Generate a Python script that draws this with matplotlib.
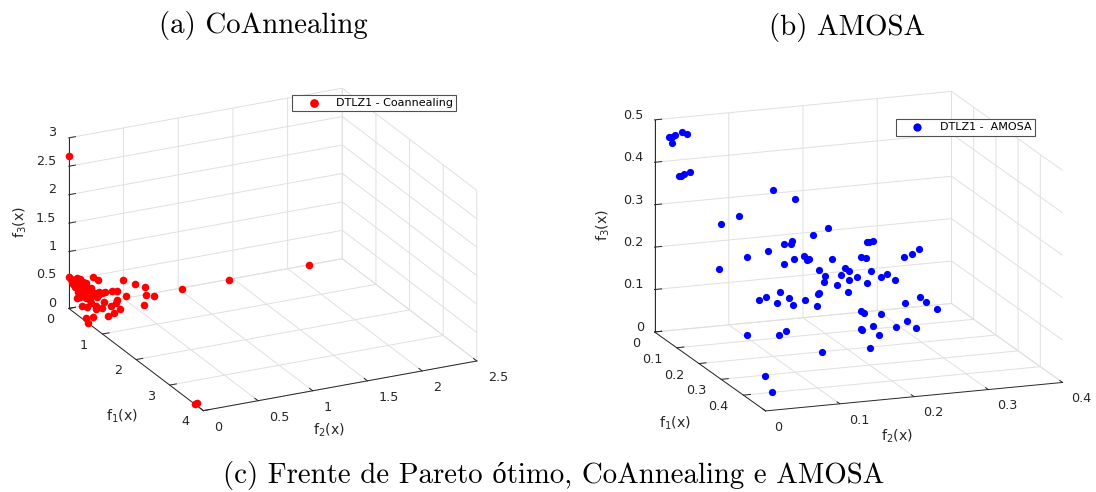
import numpy as np
import matplotlib
matplotlib.use('Agg')
import matplotlib.pyplot as plt
from matplotlib.transforms import ScaledTranslation

W, H = 1096, 492
GRAY = '#262626'

# left panel, CoAnnealing
co_f1 = [0.0,0.018,0.02,0.037,3.742,3.73,0.0,0.0,0.0,0.0,0.0,0.007,0.106,0.026,0.335,0.007,0.034,0.081,0.108,0.134,0.174,0.216,0.24,0.321,0.405,0.463,0.316,0.313,0.365,0.376,0.378,0.39,0.487,0.56,0.0,0.055,0.01,0.017,0.0,0.081,0.034,0.036,0.154,0.122,0.112,0.09,0.199,0.0,0.198,0.226,0.26,0.177,0.15,0.143,0.111,0.261,0.256,0.295,0.182,0.05,0.0,0.097,0.167,0.135]
co_f2 = [0.002,2.193,1.458,1.026,0.003,0.022,0.218,0.27,0.498,0.605,0.699,0.703,0.746,0.518,0.587,0.435,0.384,0.306,0.246,0.396,0.378,0.258,0.312,0.369,0.292,0.216,0.206,0.149,0.133,0.053,0.004,0.037,0.068,0.0,0.002,0.003,0.069,0.097,0.035,0.062,0.122,0.146,0.009,0.08,0.129,0.178,0.026,0.078,0.072,0.1,0.113,0.163,0.224,0.195,0.266,0.022,0.078,0.109,0.199,0.041,0.026,0.072,0.097,0.167]
co_f3 = [2.68,0.0,0.0,0.0,0.0,0.0,0.471,0.406,0.32,0.219,0.139,0.0,0.0,0.056,0.0,0.158,0.182,0.213,0.246,0.07,0.048,0.126,0.048,0.0,0.0,0.0,0.078,0.138,0.102,0.17,0.218,0.0,0.045,0.0,0.547,0.542,0.522,0.486,0.418,0.457,0.444,0.418,0.437,0.398,0.359,0.332,0.375,0.163,0.33,0.274,0.226,0.259,0.226,0.262,0.223,0.317,0.266,0.196,0.22,0.509,0.462,0.431,0.336,0.298]

# right panel, AMOSA
am_f1 = [0.023,0.018,0.01,0.0,0.0,0.031,0.093,0.09,0.084,0.074,0.029,0.027,0.118,0.152,0.055,0.082,0.036,0.042,0.045,0.117,0.132,0.124,0.162,0.196,0.08,0.078,0.008,0.024,0.039,0.136,0.142,0.138,0.153,0.115,0.174,0.248,0.121,0.124,0.101,0.152,0.157,0.139,0.128,0.105,0.092,0.095,0.142,0.129,0.172,0.165,0.169,0.2,0.202,0.236,0.239,0.261,0.274,0.261,0.251,0.228,0.228,0.108,0.112,0.135,0.115,0.196,0.196,0.181,0.171,0.193,0.177,0.215,0.233,0.234,0.227,0.264,0.358,0.327,0.312,0.32,0.428,0.455]
am_f2 = [0.012,0.018,0.025,0.037,0.044,0.014,0.005,0.009,0.015,0.025,0.151,0.181,0.079,0.044,0.217,0.189,0.283,0.276,0.273,0.15,0.135,0.147,0.104,0.066,0.254,0.262,0.354,0.339,0.324,0.16,0.163,0.167,0.142,0.204,0.122,0.013,0.22,0.225,0.261,0.176,0.183,0.21,0.234,0.273,0.286,0.296,0.22,0.248,0.177,0.197,0.21,0.162,0.16,0.098,0.11,0.072,0.059,0.087,0.111,0.134,0.15,0.325,0.332,0.297,0.346,0.22,0.223,0.251,0.289,0.268,0.299,0.23,0.209,0.21,0.235,0.211,0.018,0.07,0.084,0.13,0.021,0.022]
am_f3 = [0.465,0.464,0.465,0.466,0.459,0.455,0.401,0.4,0.4,0.401,0.319,0.292,0.304,0.304,0.228,0.228,0.181,0.181,0.182,0.234,0.234,0.228,0.234,0.239,0.165,0.159,0.138,0.137,0.137,0.204,0.195,0.195,0.204,0.181,0.204,0.239,0.159,0.151,0.138,0.172,0.16,0.151,0.139,0.122,0.122,0.108,0.138,0.123,0.151,0.138,0.122,0.138,0.138,0.166,0.151,0.167,0.167,0.152,0.138,0.138,0.122,0.067,0.056,0.068,0.038,0.085,0.08,0.068,0.041,0.039,0.024,0.055,0.059,0.056,0.038,0.025,0.123,0.103,0.104,0.05,0.051,0.023]

co_ticks = ([0,1,2,3,4], [0,.5,1,1.5,2,2.5], [0,.5,1,1.5,2,2.5,3])
co_labels = (['0','1','2','3','4'], ['0','0.5','1','1.5','2','2.5'], ['0','0.5','1','1.5','2','2.5','3'])
am_ticks = ([0,.1,.2,.3,.4], [0,.1,.2,.3,.4], [0,.1,.2,.3,.4,.5])
am_labels = (['0','0.1','0.2','0.3','0.4'], ['0','0.1','0.2','0.3','0.4'], ['0','0.1','0.2','0.3','0.4','0.5'])

fig = plt.figure(figsize=(W/100, H/100), dpi=100)


def nudge(ax, axis, ha, dx, dy):
    # Axis3D resets the label transform in get_major_ticks, so wrap it
    off = ScaledTranslation(dx/100, dy/100, fig.dpi_scale_trans)
    orig = axis.get_major_ticks

    def patched(numticks=None):
        ticks = orig(numticks)
        for t in ticks:
            t.label1.set_ha(ha)
            t.label1.set_transform(ax.transData + off)
        return ticks
    axis.get_major_ticks = patched


def panel(view, lims, ticks, labels):
    el, az, by, bz, s, cx, cy = view
    ax = fig.add_subplot(projection='3d')
    ax.set_position([(cx-s/2)/W, 1-(cy+s/2)/H, s/W, s/H])
    ax.view_init(elev=el, azim=az)
    ax.set_proj_type('ortho')
    ax.set_box_aspect((1, by, bz))
    ax.set_xticks(ticks[0]); ax.set_xticklabels(labels[0])
    ax.set_yticks(ticks[1]); ax.set_yticklabels(labels[1])
    ax.set_zticks(ticks[2]); ax.set_zticklabels(labels[2])
    ax.set_xlim(0, lims[0], view_margin=0)
    ax.set_ylim(0, lims[1], view_margin=0)
    ax.set_zlim(0, lims[2], view_margin=0)
    ax.patch.set_alpha(0)
    ax.tick_params(labelsize=9.2, colors=GRAY)
    for a in (ax.xaxis, ax.yaxis, ax.zaxis):
        a.set_pane_color((1, 1, 1, 1))
        a.pane.set_edgecolor((1, 1, 1, 0))
        a.line.set_color(GRAY)
        a.line.set_linewidth(0.7)
        a._axinfo['grid']['color'] = (0.88, 0.88, 0.88)
        a._axinfo['grid']['linewidth'] = 0.7
        a._axinfo['tick']['inward_factor'] = 0
        a._axinfo['tick']['outward_factor'] = 0.3
        a._axinfo['tick']['linewidth'] = {True: 0.7, False: 0.5}
    ax.zaxis.set_ticks_position('lower')
    nudge(ax, ax.xaxis, 'right', 4, 10)
    nudge(ax, ax.yaxis, 'left', 2, 8.5)
    nudge(ax, ax.zaxis, 'right', 15, 8)
    return ax


axL = panel([21.805, -26.058, 0.994, 0.6, 455.576, 266.674, 255.569], (4, 2.5, 3), co_ticks, co_labels)
axR = panel([15.134, -20.16, 0.982, 0.682, 487.447, 851.933, 257.744], (0.5, 0.4, 0.5), am_ticks, am_labels)

axL.scatter(co_f1, co_f2, co_f3, c='#ff0000', s=30, depthshade=False, linewidths=0, label='DTLZ1 - Coannealing')
axR.scatter(am_f1, am_f2, am_f3, c='#0000ff', s=27, depthshade=False, linewidths=0, label='DTLZ1 -  AMOSA')

for ax, x, y in ((axL, 292, 94.7), (axR, 895.7, 119)):
    leg = ax.legend(loc='upper left', bbox_to_anchor=(x/W, 1-y/H), bbox_transform=fig.transFigure,
                    fontsize=8, fancybox=False, framealpha=1, edgecolor='#505050', borderpad=0.3,
                    borderaxespad=0, handlelength=3.3, handletextpad=0.36, markerscale=1.15)
    leg.get_frame().set_linewidth(0.8)

for txt, x, y in [('(a) CoAnnealing', 263, 25), ('(b) AMOSA', 847.5, 27),
                  ('(c) Frente de Pareto ótimo, CoAnnealing e AMOSA', 554, 475)]:
    fig.text(x/W, 1-y/H, txt, family=['cmr10', 'Liberation Serif'], fontsize=20.8, ha='center', va='center', color='k')

for txt, x, y, rot in [('f$_1$(x)', 122, 416, 0), ('f$_2$(x)', 329, 430, 0), ('f$_3$(x)', 20, 222, 90),
                       ('f$_1$(x)', 675, 423, 0), ('f$_2$(x)', 897, 436, 0), ('f$_3$(x)', 603, 225, 90)]:
    fig.text(x/W, 1-y/H, txt, fontsize=10.2, ha='center', va='center', rotation=rot, color=GRAY)

fig.savefig('out.png', dpi=100)
